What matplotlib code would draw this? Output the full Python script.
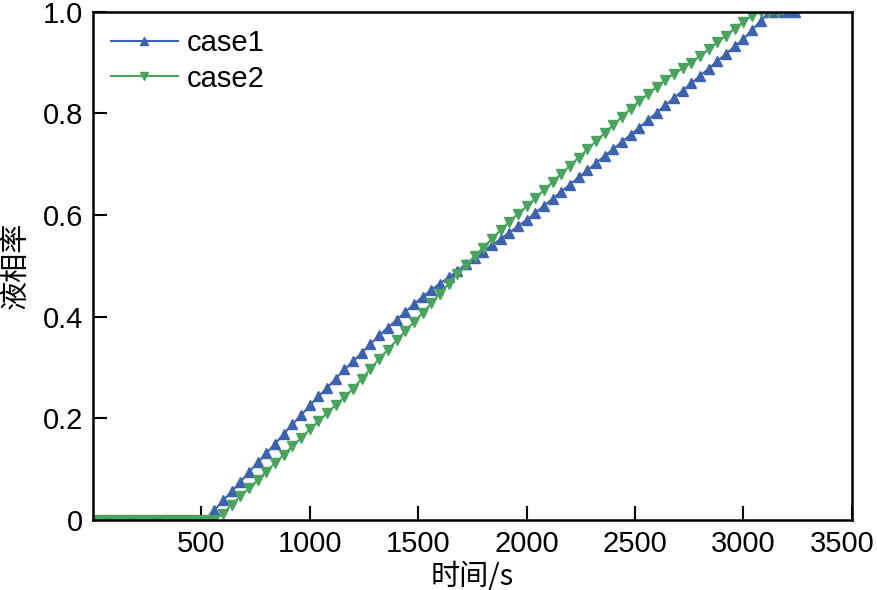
import matplotlib
matplotlib.use("Agg")
import matplotlib.pyplot as plt
import matplotlib.transforms as mtransforms

plt.rcParams['font.family'] = ['Liberation Sans', 'Noto Sans CJK SC', 'DejaVu Sans']

# liquid fraction read every 40 s
case1 = [0, 0, 0, 0, 0, 0, 0, 0, 0, 0, 0, 0, 0, 0,
         0.019, 0.038, 0.056, 0.075, 0.094, 0.113, 0.131, 0.15, 0.169, 0.188,
         0.206, 0.225, 0.243, 0.26, 0.278, 0.296, 0.312, 0.329, 0.346, 0.363,
         0.378, 0.393, 0.409, 0.424, 0.439, 0.452, 0.465, 0.477, 0.49, 0.503,
         0.515, 0.528, 0.54, 0.553, 0.565, 0.578, 0.59, 0.604, 0.618, 0.632,
         0.646, 0.66, 0.674, 0.688, 0.702, 0.716, 0.73, 0.744, 0.758, 0.772,
         0.787, 0.801, 0.816, 0.83, 0.845, 0.859, 0.874, 0.888, 0.903, 0.917,
         0.932, 0.946, 0.964, 0.982, 1.0, 1.0, 1.0, 1.0]
time1 = [40 * i for i in range(len(case1))]

case2 = [0, 0, 0, 0, 0, 0, 0, 0, 0, 0, 0, 0, 0, 0, 0,
         0.012, 0.03, 0.046, 0.062, 0.078, 0.095, 0.112, 0.128, 0.145, 0.161,
         0.178, 0.194, 0.21, 0.226, 0.241, 0.258, 0.278, 0.297, 0.317, 0.335,
         0.353, 0.371, 0.389, 0.407, 0.426, 0.445, 0.464, 0.483, 0.501, 0.519,
         0.536, 0.553, 0.57, 0.587, 0.602, 0.617, 0.633, 0.649, 0.665, 0.681,
         0.697, 0.713, 0.729, 0.745, 0.761, 0.777, 0.793, 0.809, 0.824, 0.838,
         0.852, 0.866, 0.878, 0.889, 0.9, 0.913, 0.926, 0.94, 0.953, 0.967,
         0.98, 0.992, 1.0, 1.0, 1.0]
time2 = [40 * i for i in range(len(case2))]

xticks = [500, 1000, 1500, 2000, 2500, 3000, 3500]
yticks = [0, 0.2, 0.4, 0.6, 0.8, 1.0]
ytick_labels = ["0", "0.2", "0.4", "0.6", "0.8", "1.0"]

fig = plt.figure(figsize=(8.78, 5.9), dpi=100)
ax = fig.add_axes([0.106, 0.119, 0.864, 0.861])

ax.plot(time1, case1, color="#3d62ae", linewidth=1.5, marker="^", markersize=7.5,
        label="case1")
ax.plot(time2, case2, color="#4aa45f", linewidth=1.5, marker="v", markersize=7.5,
        label="case2")

ax.set_xlim(0, 3500)
ax.set_ylim(0, 1.0)
ax.set_xticks(xticks)
ax.set_yticks(yticks)
ax.set_yticklabels(ytick_labels)
ax.tick_params(direction="in", length=10, width=1.5, labelsize=21, pad=7)
for s in ax.spines.values():
    s.set_linewidth(1.8)

# nudge the last x label left so it stays inside the figure
last = ax.get_xticklabels()[-1]
last.set_transform(last.get_transform() +
                   mtransforms.ScaledTranslation(-0.09, 0, fig.dpi_scale_trans))

ax.set_xlabel("时间/s", fontsize=21, family=['Noto Sans CJK SC'], labelpad=3)
ax.set_ylabel("液相率", fontsize=21, family=['Noto Sans CJK SC'], labelpad=8)

leg = ax.legend(loc="upper left", frameon=False, fontsize=21, numpoints=1,
                handlelength=2.3, borderaxespad=0.2, labelspacing=0.25,
                handletextpad=0.3, markerscale=0.7)

fig.savefig("out.png", dpi=100)
